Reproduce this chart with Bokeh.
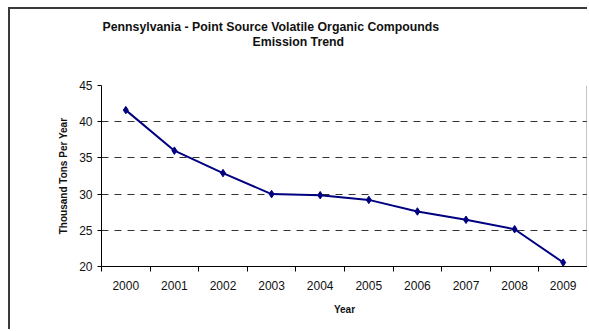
from bokeh.plotting import figure
from bokeh.models import FixedTicker, Range1d, Span, Title
from bokeh.embed import file_html
from bokeh.resources import INLINE

years = ["2000", "2001", "2002", "2003", "2004", "2005", "2006", "2007", "2008", "2009"]
emissions = [41.6, 36.0, 32.9, 30.0, 29.85, 29.2, 27.6, 26.45, 25.15, 20.55]
y_ticks = [20, 25, 30, 35, 40, 45]
title_lines = ["Pennsylvania - Point Source Volatile Organic Compounds", "Emission Trend"]

FONT = "Liberation Sans"
n = len(years)
xs = list(range(n))

p = figure(width=579, height=322, output_backend="svg", toolbar_location=None,
           x_range=Range1d(-0.5, n - 0.5), y_range=Range1d(y_ticks[0], y_ticks[-1]),
           min_border_left=91, min_border_right=2, min_border_top=76, min_border_bottom=65)
p.styles = {"margin-left": "8px", "margin-top": "7px",
            "border-left": "2px solid #3a3a3a", "border-top": "2px solid #3a3a3a"}
p.outline_line_color = None
p.background_fill_color = "white"
p.border_fill_color = "white"

title_style = dict(align="left", text_font=FONT, text_font_size="12.3px",
                   text_font_style="bold", text_color="#111111")
# outermost: first title line
p.title.text = title_lines[0]
p.title.offset = 1
p.title.standoff = -4
for k, v in title_style.items():
    setattr(p.title, k, v)
# nearest the frame: spacer, then the second title line
p.add_layout(Title(text=" ", standoff=19, **title_style), "above")
p.add_layout(Title(text=title_lines[1], offset=151, standoff=3, **title_style), "above")

# grid
p.xgrid.visible = False
p.ygrid.ticker = FixedTicker(ticks=y_ticks)
p.ygrid.grid_line_color = "#333333"
p.ygrid.grid_line_dash = "7 6"
p.ygrid.grid_line_width = 1

# right frame edge
p.add_layout(Span(location=n - 0.5, dimension="height", line_color="#8a8a8a", line_width=2))

# axes
xa = p.xaxis[0]
xa.ticker = FixedTicker(ticks=xs, minor_ticks=[i - 0.5 for i in range(n + 1)])
xa.major_label_overrides = {i: years[i] for i in xs}
xa.major_tick_out = 0
xa.major_tick_in = 0
xa.minor_tick_out = 5
xa.minor_tick_in = 0
xa.minor_tick_line_color = "black"
xa.major_label_standoff = 9
xa.axis_label = "Year"
xa.axis_label_standoff = 11

ya = p.yaxis[0]
ya.ticker = FixedTicker(ticks=y_ticks)
ya.major_tick_out = 4
ya.major_tick_in = 0
ya.minor_tick_out = 0
ya.minor_tick_in = 0
ya.major_label_standoff = 5
ya.axis_label = "Thousand Tons Per Year"
ya.axis_label_standoff = 7

for ax in (xa, ya):
    ax.axis_line_color = "black"
    ax.axis_line_width = 1
    ax.major_tick_line_color = "black"
    ax.major_label_text_font = FONT
    ax.major_label_text_font_size = "12px"
    ax.major_label_text_color = "#111111"
    ax.axis_label_text_font = FONT
    ax.axis_label_text_font_size = "10px"
    ax.axis_label_text_font_style = "bold"
    ax.axis_label_text_color = "#111111"

p.line(xs, emissions, line_color="#000080", line_width=2)
p.scatter(xs, emissions, marker="diamond", size=7.5, fill_color="#000080", line_color="#000080")

open("out.html", "w").write(file_html(p, INLINE))
